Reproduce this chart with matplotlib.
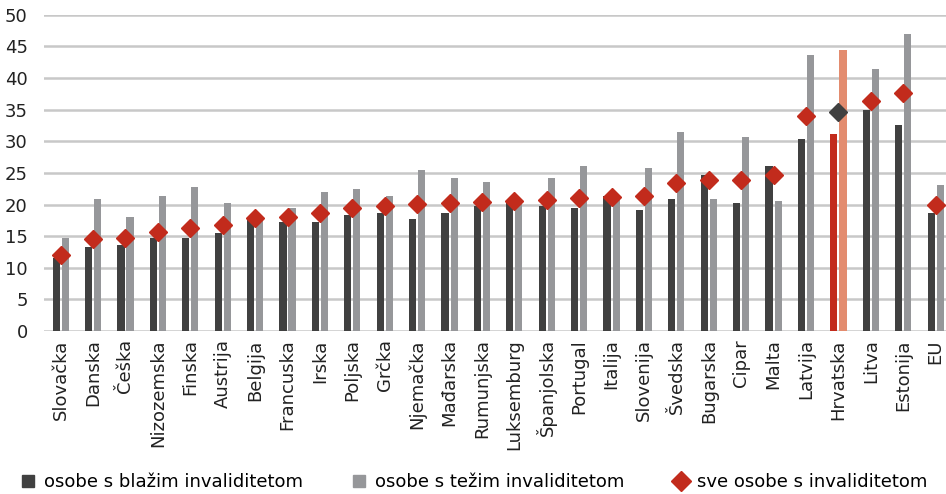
import matplotlib
matplotlib.use("Agg")
import matplotlib.pyplot as plt
from matplotlib.lines import Line2D
import numpy as np

countries = ["Slovačka", "Danska", "Češka", "Nizozemska", "Finska", "Austrija", "Belgija",
             "Francuska", "Irska", "Poljska", "Grčka", "Njemačka", "Mađarska", "Rumunjska",
             "Luksemburg", "Španjolska", "Portugal", "Italija", "Slovenija", "Švedska",
             "Bugarska", "Cipar", "Malta", "Latvija", "Hrvatska", "Litva", "Estonija", "EU"]

mild = [11.5, 13.3, 13.6, 14.7, 14.7, 15.5, 17.7, 17.3, 17.3, 18.4, 18.7, 17.7, 18.7, 19.8,
        20.6, 19.8, 19.5, 21.4, 19.2, 20.9, 24.6, 20.3, 26.1, 30.4, 31.2, 34.9, 32.6, 18.7]
severe = [14.7, 20.9, 18.1, 21.4, 22.8, 20.3, 17.7, 19.5, 22.0, 22.5, 21.4, 25.4, 24.2, 23.5,
          20.9, 24.2, 26.1, 20.9, 25.7, 31.5, 20.9, 30.7, 20.6, 43.6, 44.4, 41.4, 46.9, 23.1]
all_dis = [12.0, 14.5, 14.7, 15.7, 16.3, 16.8, 17.9, 18.1, 18.6, 19.4, 19.8, 20.1, 20.3, 20.4,
           20.5, 20.7, 21.0, 21.2, 21.3, 23.4, 23.9, 23.9, 24.7, 34.0, 34.6, 36.3, 37.7, 20.0]

DARK = "#404040"
LIGHT = "#96979a"
RED = "#c22b1c"
SALMON = "#e38c6f"

n = len(countries)
x = np.arange(n)
hr = countries.index("Hrvatska")

c_mild = [RED if i == hr else DARK for i in range(n)]
c_sev = [SALMON if i == hr else LIGHT for i in range(n)]
c_all = [DARK if i == hr else RED for i in range(n)]

fig = plt.figure(figsize=(9.46, 4.94), dpi=100)
ax = fig.add_axes([0.047, 0.33, 0.953, 0.64])

ax.bar(x - 0.14, mild, width=0.22, color=c_mild, zorder=2)
ax.bar(x + 0.14, severe, width=0.22, color=c_sev, zorder=2)
for i in range(n):
    ax.plot(x[i], all_dis[i], marker="D", ms=9.5, color=c_all[i], ls="none", zorder=3)

ax.set_ylim(0, 50)
ax.set_xlim(-0.5, n - 0.68)
ax.set_yticks(range(0, 51, 5))
ax.yaxis.grid(True, color="#c8c8c8", lw=1.8)
ax.set_axisbelow(True)
for s in ax.spines.values():
    s.set_visible(False)
ax.tick_params(length=0, labelsize=13, colors="#222222")
ax.tick_params(axis="y", pad=12)
ax.tick_params(axis="x", pad=6)
ax.set_xticks(x)
ax.set_xticklabels(countries, rotation=90)

handles = [
    Line2D([], [], marker="s", ms=9, color=DARK, ls="none"),
    Line2D([], [], marker="s", ms=9, color=LIGHT, ls="none"),
    Line2D([], [], marker="D", ms=10, color=RED, ls="none"),
]
labels = ["osobe s blažim invaliditetom", "osobe s težim invaliditetom", "sve osobe s invaliditetom"]
fig.legend(handles, labels, loc="lower center", ncol=3, frameon=False, fontsize=13,
           bbox_to_anchor=(0.5, -0.027), columnspacing=2.6, handletextpad=0.4,
           handlelength=1.0)

fig.savefig("out.png", dpi=100)
